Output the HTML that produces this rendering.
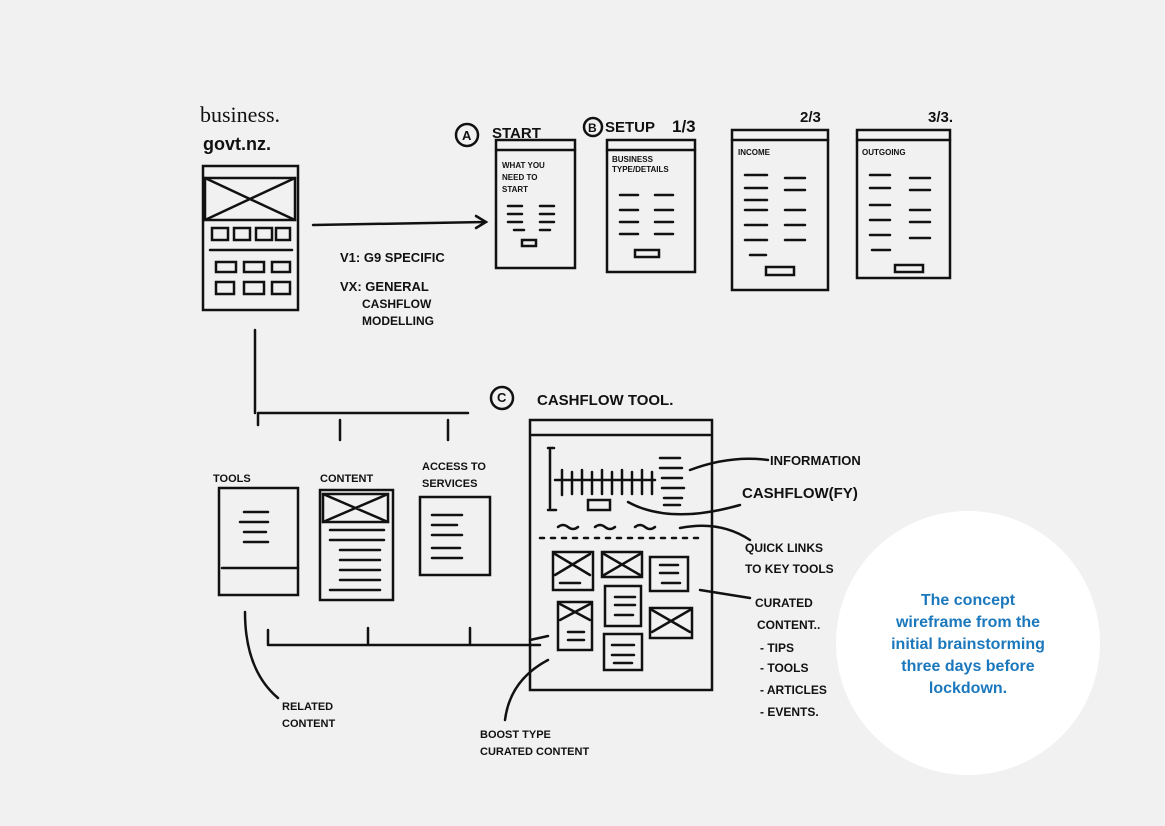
<!DOCTYPE html>
<html><head><meta charset="utf-8"><style>
html,body{margin:0;padding:0;background:#f1f1f1;}
svg{display:block}
.h{font-family:"Liberation Sans",sans-serif;font-weight:bold;fill:#111;}
</style></head><body>
<svg width="1165" height="826" viewBox="0 0 1165 826" xmlns="http://www.w3.org/2000/svg">
<rect width="1165" height="826" fill="#f1f1f1"/>
<g stroke="#111" stroke-width="2.5" fill="none" stroke-linecap="round">
<!-- phone -->
<rect x="203" y="166" width="95" height="144"/>
<rect x="205" y="178" width="90" height="42"/>
<path d="M205 178 L295 220 M295 178 L205 220"/>
<rect x="212" y="228" width="16" height="12"/><rect x="234" y="228" width="16" height="12"/><rect x="256" y="228" width="16" height="12"/><rect x="276" y="228" width="14" height="12"/>
<path d="M210 250 H292"/>
<rect x="216" y="262" width="20" height="10"/><rect x="244" y="262" width="20" height="10"/><rect x="272" y="262" width="18" height="10"/>
<rect x="216" y="282" width="18" height="12"/><rect x="244" y="282" width="20" height="12"/><rect x="272" y="282" width="18" height="12"/>
<!-- arrow -->
<path d="M313 225 L485 222 M476 216 L486 222 L476 228"/>
<!-- A / B -->
<circle cx="467" cy="135" r="11"/><circle cx="593" cy="127" r="9"/>
<!-- screens -->
<rect x="496" y="140" width="79" height="128"/><path d="M496 150 H575"/>
<path d="M508 206 h14 M540 206 h14 M508 214 h14 M540 214 h14 M508 222 h14 M540 222 h14 M514 230 h10 M540 230 h10"/><rect x="522" y="240" width="14" height="6"/>
<rect x="607" y="140" width="88" height="132"/><path d="M607 150 H695"/>
<path d="M620 195 h18 M655 195 h18 M620 210 h18 M655 210 h18 M620 222 h18 M655 222 h18 M620 234 h18 M655 234 h18"/><rect x="635" y="250" width="24" height="7"/>
<rect x="732" y="130" width="96" height="160"/><path d="M732 140 H828"/>
<path d="M745 175 h22 M785 178 h20 M745 188 h22 M785 190 h20 M745 200 h22 M785 210 h20 M745 210 h22 M785 225 h20 M745 225 h22 M745 240 h22 M785 240 h20 M750 255 h16"/><rect x="766" y="267" width="28" height="8"/>
<rect x="857" y="130" width="93" height="148"/><path d="M857 140 H950"/>
<path d="M870 175 h20 M910 178 h20 M870 188 h20 M910 190 h20 M870 205 h20 M910 210 h20 M870 220 h20 M910 222 h20 M870 235 h20 M910 238 h20 M872 250 h18"/><rect x="895" y="265" width="28" height="7"/>
<!-- tree -->
<path d="M255 330 V413 M258 413 H468 M258 413 V425 M340 420 V440 M448 420 V440"/>
<rect x="219" y="488" width="79" height="107"/><path d="M222 568 H298"/>
<path d="M244 512 h24 M240 522 h28 M244 532 h22 M244 542 h24"/>
<rect x="320" y="490" width="73" height="110"/><rect x="323" y="494" width="65" height="28"/><path d="M323 494 L388 522 M388 494 L323 522 M330 530 h54 M330 540 h54 M340 550 h40 M340 560 h40 M340 570 h40 M340 580 h40 M330 590 h50"/>
<rect x="420" y="497" width="70" height="78"/><path d="M432 515 h30 M432 525 h25 M432 535 h30 M432 548 h28 M432 558 h30"/>
<path d="M268 645 H540 M268 630 V645 M368 628 V645 M470 628 V645"/>
<path d="M245 612 Q245 670 278 698"/>
<!-- C -->
<circle cx="502" cy="398" r="11"/>
<rect x="530" y="420" width="182" height="270"/><path d="M532 435 H710"/>
<path d="M550 450 V508 M548 448 h6 M548 510 h8 M555 480 H655"/>
<path d="M562 470 v25 M572 472 v22 M582 470 v24 M592 472 v22 M602 470 v24 M612 472 v22 M622 470 v24 M632 472 v22 M642 470 v24 M652 472 v22"/>
<rect x="588" y="500" width="22" height="10"/>
<path d="M660 458 h20 M660 468 h22 M662 478 h20 M662 488 h22 M664 498 h18 M664 505 h16"/>
<path d="M558 527 q5 -4 10 0 q5 4 10 0 M595 527 q5 -4 10 0 q5 4 10 0 M635 527 q5 -4 10 0 q5 4 10 0"/>
<path d="M540 538 H705" stroke-dasharray="4 7"/>
<rect x="553" y="552" width="40" height="38"/><path d="M555 554 L590 575 M590 554 L555 575 M560 583 h20"/>
<rect x="602" y="552" width="40" height="25"/><path d="M604 554 L640 575 M640 554 L604 575"/>
<rect x="650" y="557" width="38" height="34"/><path d="M660 565 h18 M660 573 h18 M662 583 h18"/>
<rect x="605" y="586" width="36" height="40"/><path d="M615 597 h20 M615 605 h20 M615 615 h18"/>
<rect x="558" y="602" width="34" height="48"/><path d="M560 604 L590 620 M590 604 L560 620 M568 632 h16 M568 640 h16"/>
<rect x="650" y="608" width="42" height="30"/><path d="M652 610 L690 632 M690 610 L652 632"/>
<rect x="604" y="634" width="38" height="36"/><path d="M612 645 h22 M612 655 h22 M614 663 h18"/>
<!-- pointers -->
<path d="M690 470 Q730 455 768 460 M628 502 Q670 525 740 505 M680 528 Q720 520 750 540 M700 590 L750 598 M548 636 L530 640 M548 660 Q510 680 505 720"/>
</g>
<g class="h">
<text x="200" y="122" font-size="22" font-weight="normal" font-family="Liberation Serif">business.</text>
<text x="203" y="150" font-size="18">govt.nz.</text>
<text x="462" y="140" font-size="13">A</text><text x="588" y="132" font-size="12">B</text><text x="497" y="402" font-size="13">C</text>
<text x="492" y="138" font-size="15">START</text>
<text x="605" y="132" font-size="15">SETUP</text><text x="672" y="132" font-size="17">1/3</text>
<text x="800" y="122" font-size="15">2/3</text><text x="928" y="122" font-size="15">3/3.</text>
<text x="502" y="168" font-size="8">WHAT YOU</text><text x="502" y="180" font-size="8">NEED TO</text><text x="502" y="192" font-size="8">START</text>
<text x="612" y="162" font-size="8">BUSINESS</text><text x="612" y="172" font-size="8">TYPE/DETAILS</text>
<text x="738" y="155" font-size="8">INCOME</text><text x="862" y="155" font-size="8">OUTGOING</text>
<text x="340" y="262" font-size="13">V1: G9 SPECIFIC</text>
<text x="340" y="291" font-size="13">VX: GENERAL</text>
<text x="362" y="308" font-size="12">CASHFLOW</text><text x="362" y="325" font-size="12">MODELLING</text>
<text x="537" y="405" font-size="15">CASHFLOW TOOL.</text>
<text x="213" y="482" font-size="11">TOOLS</text><text x="320" y="482" font-size="11">CONTENT</text>
<text x="422" y="470" font-size="11">ACCESS TO</text><text x="422" y="487" font-size="11">SERVICES</text>
<text x="770" y="465" font-size="13">INFORMATION</text>
<text x="742" y="498" font-size="15">CASHFLOW(FY)</text>
<text x="745" y="552" font-size="12">QUICK LINKS</text><text x="745" y="573" font-size="12">TO KEY TOOLS</text>
<text x="755" y="607" font-size="12">CURATED</text><text x="757" y="629" font-size="12">CONTENT..</text>
<text x="760" y="652" font-size="12">- TIPS</text><text x="760" y="672" font-size="12">- TOOLS</text>
<text x="760" y="694" font-size="12">- ARTICLES</text><text x="760" y="716" font-size="12">- EVENTS.</text>
<text x="282" y="710" font-size="11">RELATED</text><text x="282" y="727" font-size="11">CONTENT</text>
<text x="480" y="738" font-size="11">BOOST TYPE</text><text x="480" y="755" font-size="11">CURATED CONTENT</text>
</g>
<circle cx="968" cy="643" r="132" fill="#fff"/>
<g font-family="Liberation Sans,sans-serif" font-weight="bold" font-size="16" fill="#1b78bd" text-anchor="middle">
<text x="968" y="605">The concept</text>
<text x="968" y="627">wireframe from the</text>
<text x="968" y="649">initial brainstorming</text>
<text x="968" y="671">three days before</text>
<text x="968" y="693">lockdown.</text>
</g>
</svg>
</body></html>
